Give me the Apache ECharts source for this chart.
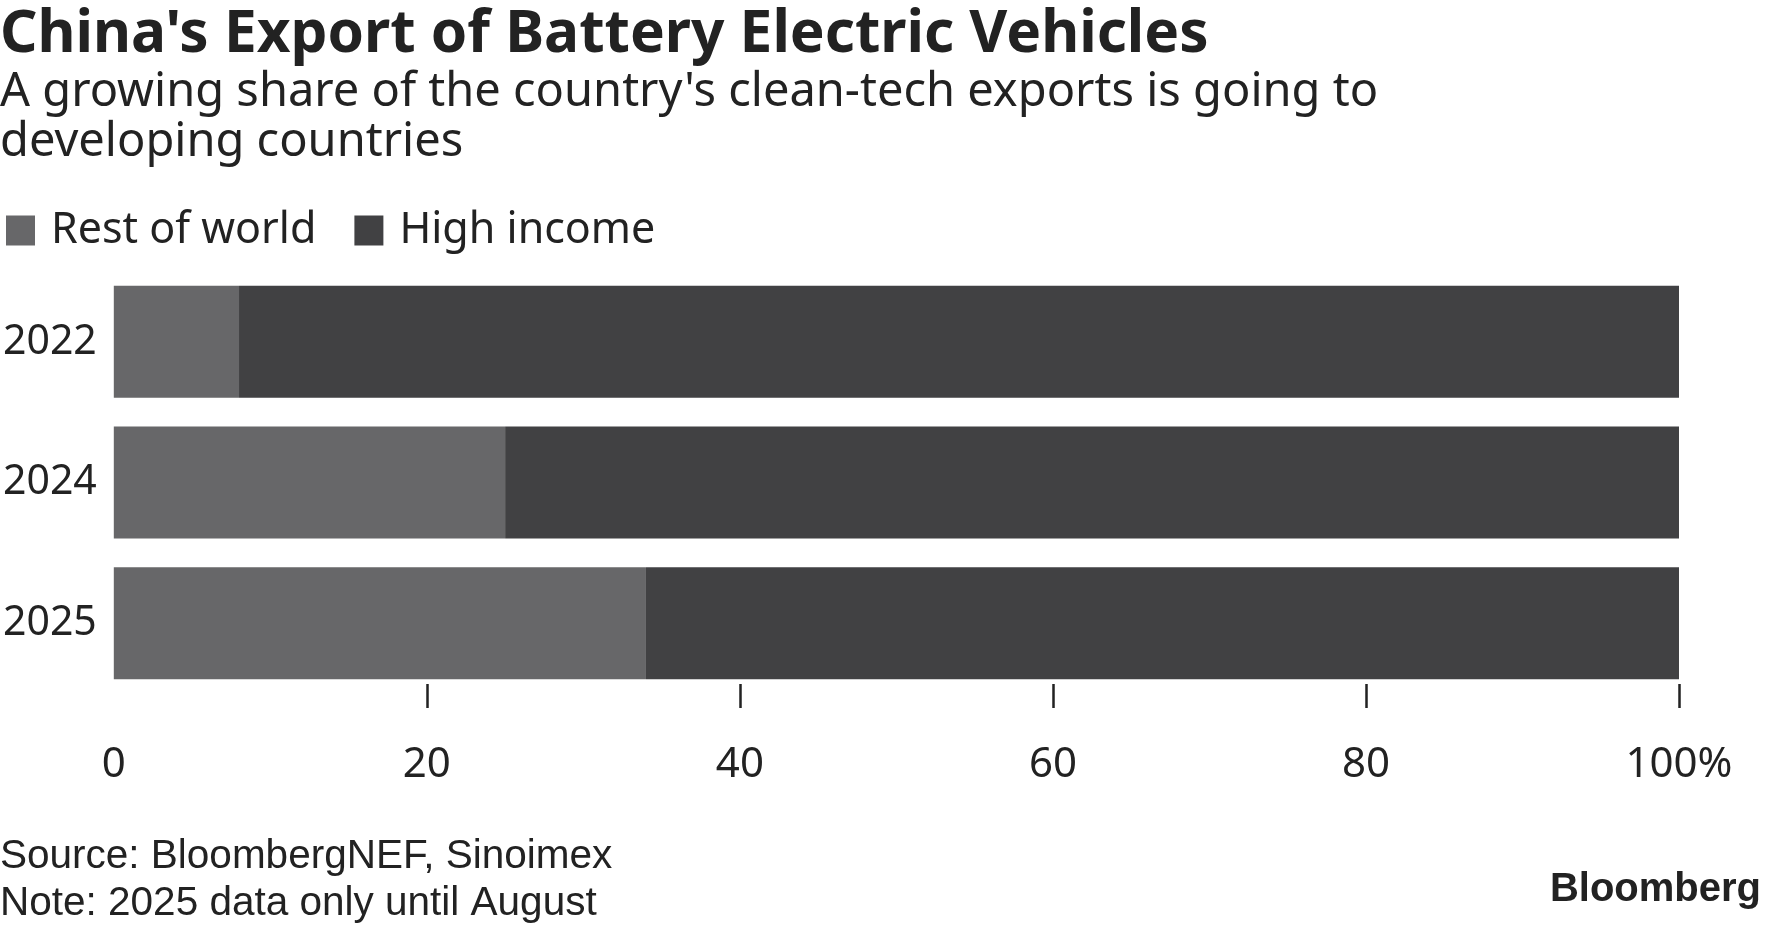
<!DOCTYPE html>
<html>
<head>
<meta charset="utf-8">
<script src="https://cdn.jsdelivr.net/npm/echarts@6/dist/echarts.min.js"></script>
<style>
html,body{margin:0;padding:0;background:#fff;}
#chart{width:1776px;height:927px;}
</style>
</head>
<body>
<div id="chart"></div>
<script>
const categories = ['2022', '2024', '2025'];
const restOfWorld = [8, 25, 34];
const highIncome = [92, 75, 66];
const xTicks = [0, 20, 40, 60, 80, 100];
const seriesNames = ['Rest of world', 'High income'];

const FONT = '"Noto Sans", "Liberation Sans", Arial, sans-serif';
const FONT2 = '"Liberation Sans", Arial, sans-serif';
const TEXT = '#222222';
const chart = echarts.init(document.getElementById('chart'), null, {renderer: 'canvas'});

chart.setOption({
  backgroundColor: '#ffffff',
  animation: false,
  textStyle: {fontFamily: FONT, color: TEXT},
  graphic: [
    {type: 'text', left: 0, top: 5.5, style: {text: "China's Export of Battery Electric Vehicles", font: 'bold 58.5px ' + FONT, fill: TEXT}},
    {type: 'text', left: 0, top: 68, style: {text: "A growing share of the country's clean-tech exports is going to\ndeveloping countries", font: '47px ' + FONT, fill: TEXT, lineHeight: 50}},
    {type: 'text', left: 0, top: 834, style: {text: 'Source: BloombergNEF, Sinoimex\nNote: 2025 data only until August', font: '40.5px ' + FONT2, fill: TEXT, lineHeight: 46.5}},
    {type: 'text', right: 15, top: 870, style: {text: 'Bloomberg', font: 'bold 40px ' + FONT2, fill: TEXT}}
  ],
  legend: {
    left: 6, top: 209, padding: 0,
    itemWidth: 29, itemHeight: 30, itemGap: 38,
    icon: 'rect',
    selectedMode: false,
    textStyle: {fontSize: 43, color: TEXT, fontFamily: FONT, padding: [0, 0, 0, 11]},
    data: seriesNames
  },
  grid: {left: 107.5, right: 97, top: 271.5, bottom: 233.5, containLabel: false},
  xAxis: {
    type: 'value', min: 0, max: 100, interval: 20,
    offset: -9.5,
    axisLine: {show: false},
    splitLine: {show: false},
    axisTick: {show: true, length: 24, lineStyle: {color: TEXT, width: 2.5}, customValues: xTicks.slice(1)},
    axisLabel: {fontSize: 42, color: TEXT, fontFamily: FONT, margin: 60, customValues: xTicks,
      formatter: v => v === 100 ? '100%' : String(v)}
  },
  yAxis: {
    type: 'category', data: categories, inverse: true,
    axisLine: {show: false}, axisTick: {show: false},
    axisLabel: {fontSize: 41, color: TEXT, fontFamily: FONT, margin: 17}
  },
  series: [
    {name: seriesNames[0], type: 'bar', stack: 'total', data: restOfWorld, barWidth: 112, itemStyle: {color: '#676769'}, emphasis: {disabled: true}},
    {name: seriesNames[1], type: 'bar', stack: 'total', data: highIncome, barWidth: 112, itemStyle: {color: '#414143'}, emphasis: {disabled: true}}
  ]
});
</script>
</body>
</html>
